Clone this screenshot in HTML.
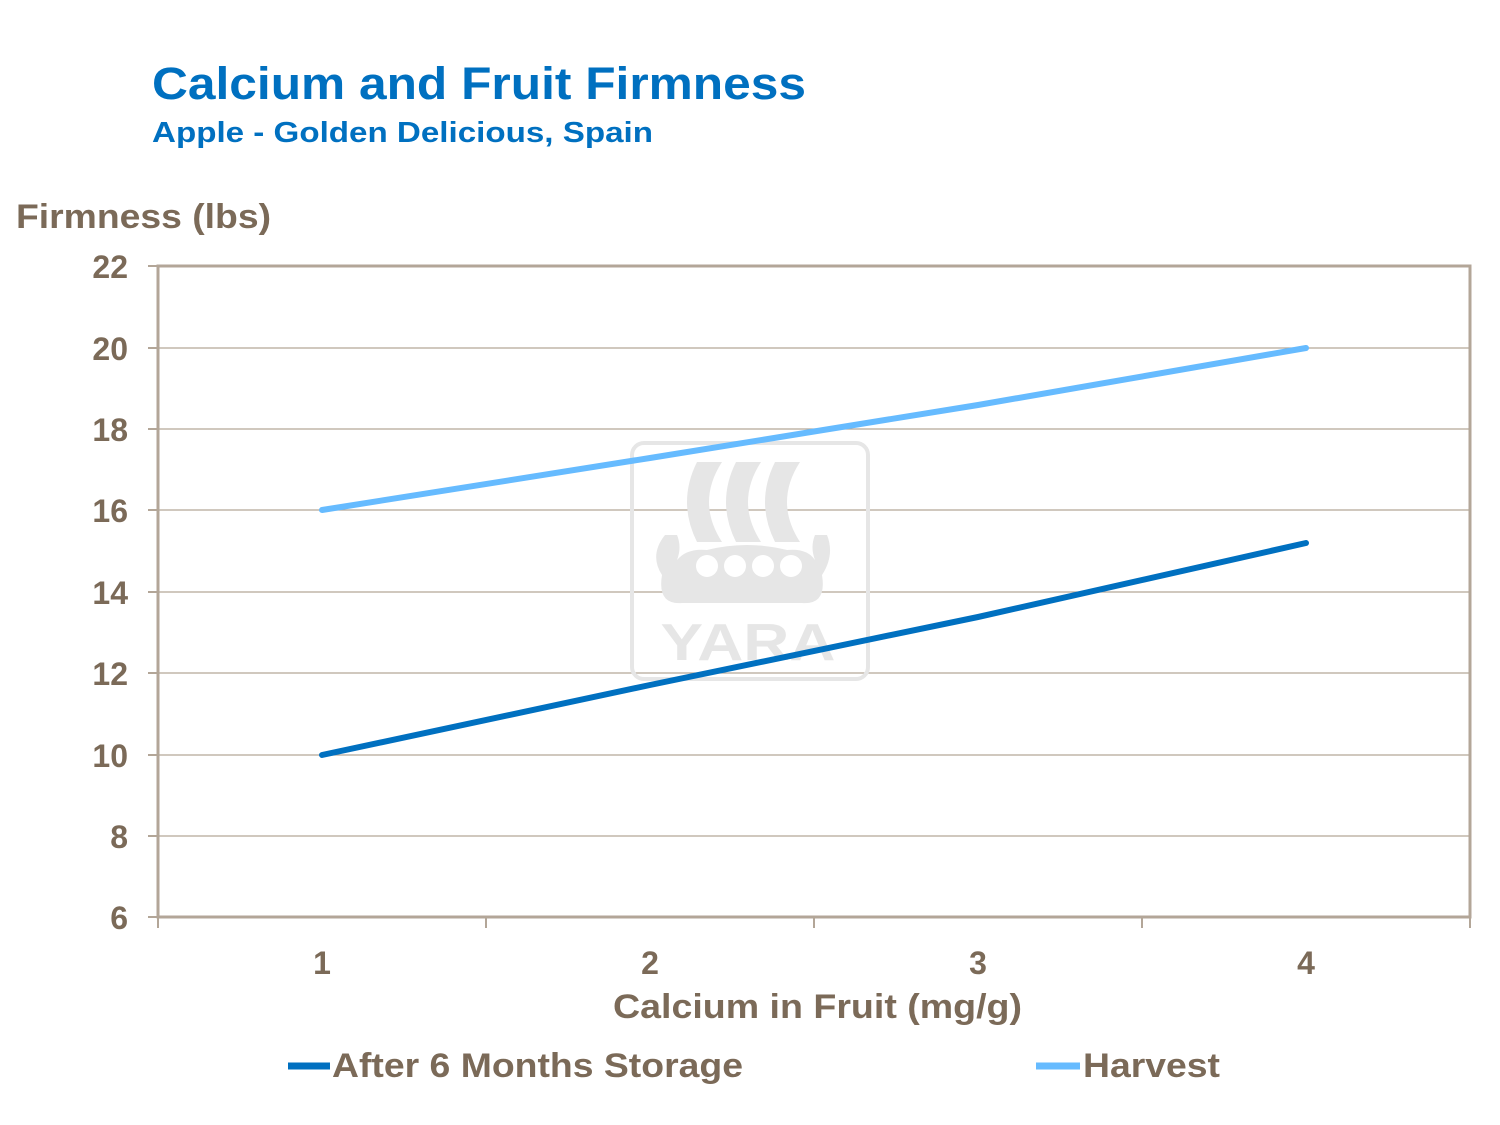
<!DOCTYPE html>
<html><head><style>
body{margin:0;background:#fff;}
svg{display:block;font-family:"Liberation Sans",Arial,sans-serif;font-weight:bold;}
</style></head><body>
<svg width="1500" height="1125" viewBox="0 0 1500 1125">
<text x="152" y="99" font-size="45" fill="#0070c0" textLength="654" lengthAdjust="spacingAndGlyphs">Calcium and Fruit Firmness</text>
<text x="152" y="142" font-size="29" fill="#0070c0" textLength="501" lengthAdjust="spacingAndGlyphs">Apple - Golden Delicious, Spain</text>
<text x="16" y="228" font-size="34" fill="#7b6a58" textLength="255" lengthAdjust="spacingAndGlyphs">Firmness (lbs)</text>
<g stroke="#b3a698" stroke-width="1.3">
<line x1="158" y1="348" x2="1470" y2="348"/>
<line x1="158" y1="429" x2="1470" y2="429"/>
<line x1="158" y1="510" x2="1470" y2="510"/>
<line x1="158" y1="592" x2="1470" y2="592"/>
<line x1="158" y1="673" x2="1470" y2="673"/>
<line x1="158" y1="755" x2="1470" y2="755"/>
<line x1="158" y1="836" x2="1470" y2="836"/>
</g>
<g fill="#e6e6e6">
<rect x="632" y="443" width="236" height="236" rx="12" fill="none" stroke="#e6e6e6" stroke-width="4"/>
<path d="M697 462 h25 q-26 40 0 80 h-25 q-20 -40 0 -80z"/>
<path d="M736 462 h25 q-26 40 0 80 h-25 q-20 -40 0 -80z"/>
<path d="M775 462 h25 q-26 40 0 80 h-25 q-20 -40 0 -80z"/>
<path d="M665 535 h12 q5 12 0 25 q10 -12 30 -10 q40 -10 80 0 q20 -2 28 10 q-5 -13 0 -25 h12 q8 20 -5 40 q5 30 -20 28 h-120 q-25 2 -20 -28 q-13 -20 3 -40z"/>
<text x="748" y="660" font-size="52" text-anchor="middle" fill="#e6e6e6" textLength="175" lengthAdjust="spacingAndGlyphs">YARA</text>
</g>
<g fill="#fff"><circle cx="707" cy="566" r="11"/><circle cx="735" cy="566" r="11"/><circle cx="763" cy="566" r="11"/><circle cx="791" cy="566" r="11"/></g>
<rect x="158" y="266" width="1312" height="651" fill="none" stroke="#b3a698" stroke-width="3"/>
<g stroke="#b3a698" stroke-width="2">
<line x1="148" y1="266" x2="158" y2="266"/><line x1="148" y1="348" x2="158" y2="348"/>
<line x1="148" y1="429" x2="158" y2="429"/><line x1="148" y1="510" x2="158" y2="510"/>
<line x1="148" y1="592" x2="158" y2="592"/><line x1="148" y1="673" x2="158" y2="673"/>
<line x1="148" y1="755" x2="158" y2="755"/><line x1="148" y1="836" x2="158" y2="836"/>
<line x1="148" y1="917" x2="158" y2="917"/>
<line x1="158" y1="917" x2="158" y2="928"/><line x1="486" y1="917" x2="486" y2="928"/>
<line x1="814" y1="917" x2="814" y2="928"/><line x1="1142" y1="917" x2="1142" y2="928"/>
<line x1="1470" y1="917" x2="1470" y2="928"/>
</g>
<g font-size="32" fill="#7b6a58" text-anchor="end">
<text x="128" y="278">22</text><text x="128" y="360">20</text><text x="128" y="441">18</text>
<text x="128" y="522">16</text><text x="128" y="604">14</text><text x="128" y="685">12</text>
<text x="128" y="767">10</text><text x="128" y="848">8</text><text x="128" y="929">6</text>
</g>
<g font-size="32" fill="#7b6a58" text-anchor="middle">
<text x="322" y="974">1</text><text x="650" y="974">2</text><text x="978" y="974">3</text><text x="1306" y="974">4</text>
</g>
<text x="613" y="1018" font-size="34" fill="#7b6a58" textLength="409" lengthAdjust="spacingAndGlyphs">Calcium in Fruit (mg/g)</text>
<polyline points="322,510 650,458 978,405 1306,348" fill="none" stroke="#66bbff" stroke-width="6" stroke-linecap="round"/>
<polyline points="322,755 650,685 978,617 1306,543" fill="none" stroke="#0070c0" stroke-width="6" stroke-linecap="round"/>
<line x1="288" y1="1066" x2="330" y2="1066" stroke="#0070c0" stroke-width="7"/>
<text x="332" y="1077" font-size="34" fill="#7b6a58" textLength="411" lengthAdjust="spacingAndGlyphs">After 6 Months Storage</text>
<line x1="1036" y1="1066" x2="1080" y2="1066" stroke="#66bbff" stroke-width="7"/>
<text x="1083" y="1077" font-size="34" fill="#7b6a58" textLength="137" lengthAdjust="spacingAndGlyphs">Harvest</text>
</svg>
</body></html>
